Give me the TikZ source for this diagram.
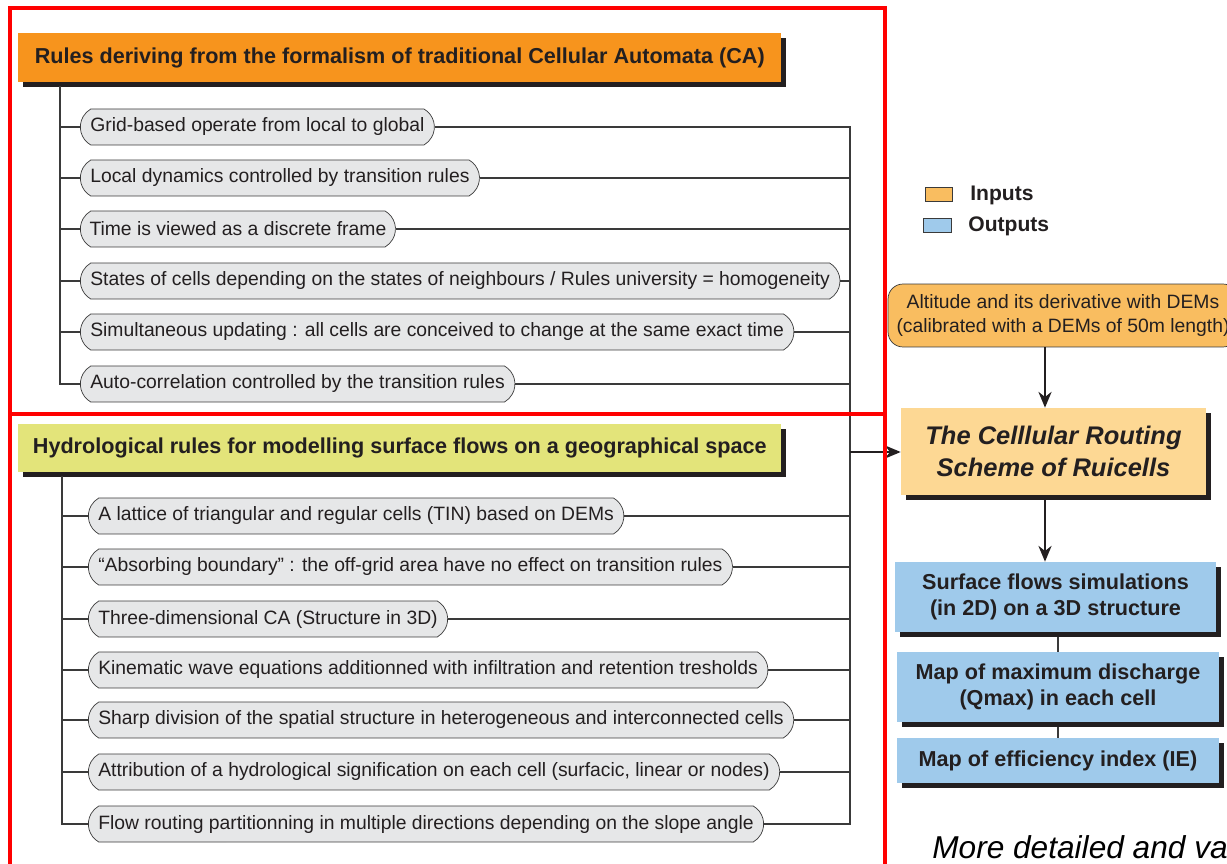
\documentclass[tikz,border=0pt]{standalone}
\usepackage{fontspec}
\setmainfont{Liberation Sans}
\usetikzlibrary{shapes.misc,shadows,arrows.meta}
\usepackage{xcolor}

\definecolor{hdrorange}{HTML}{F7941D}
\definecolor{hdryellow}{HTML}{E3E47A}
\definecolor{pillgray}{HTML}{E6E7E8}
\definecolor{inorange}{HTML}{F9BD60}
\definecolor{routeorange}{HTML}{FDD894}
\definecolor{outblue}{HTML}{9FCAEB}
\definecolor{txt}{HTML}{231F20}
\definecolor{wire}{HTML}{3A3A3A}

\tikzset{
	header/.style={fill=#1, anchor=west, minimum width=15.26cm, minimum height=0.98cm, text=txt, font=\fontsize{12.3}{14}\selectfont\bfseries, drop shadow={shadow xshift=0.1cm, shadow yshift=-0.1cm, opacity=1, fill=txt}},
	pill/.style={draw=wire, fill=pillgray, rounded rectangle, rounded rectangle arc length=120, anchor=west, minimum height=0.72cm, inner xsep=4.5pt, text=txt, font=\fontsize{11}{13}\selectfont},
	outbox/.style={fill=outblue, minimum width=6.43cm, align=center, text=txt, font=\fontsize{12.3}{14.5}\selectfont\bfseries, drop shadow={shadow xshift=0.1cm, shadow yshift=-0.1cm, opacity=1, fill=txt}},
	wires/.style={draw=wire, line width=0.8pt},
	flow/.style={-{Stealth[length=9pt,width=7.5pt]}, line width=1.1pt, txt},
	frame/.style={draw=red, line width=2.4pt}
}

\begin{document}
\begin{tikzpicture}[x=0.02cm, y=-0.02cm]

			\useasboundingbox (0,0) rectangle (1227,864);

			\node [header=hdrorange] (1) at (18,57.5) {Rules deriving from the formalism of traditional Cellular Automata (CA)};
			\node [pill] (11) at (80,127) {Grid-based operate from local to global};
			\node [pill] (12) at (80,178) {Local dynamics controlled by transition rules};
			\node [pill] (13) at (80,229) {Time is viewed as a discrete frame};
			\node [pill] (14) at (80,281) {States of cells depending on the states of neighbours / Rules university = homogeneity};
			\node [pill] (15) at (80,332) {Simultaneous updating : all cells are conceived to change at the same exact time};
			\node [pill] (16) at (80,384) {Auto-correlation controlled by the transition rules};

			\node [header=hdryellow] (2) at (18,448) {Hydrological rules for modelling surface flows on a geographical space};
			\node [pill] (21) at (88,516) {A lattice of triangular and regular cells (TIN) based on DEMs};
			\node [pill] (22) at (88,567) {“Absorbing boundary” : the off-grid area have no effect on transition rules};
			\node [pill] (23) at (88,619) {Three-dimensional CA (Structure in 3D)};
			\node [pill] (24) at (88,670) {Kinematic wave equations additionned with infiltration and retention tresholds};
			\node [pill] (25) at (88,720) {Sharp division of the spatial structure in heterogeneous and interconnected cells};
			\node [pill] (26) at (88,772) {Attribution of a hydrological signification on each cell (surfacic, linear or nodes)};
			\node [pill] (27) at (88,824) {Flow routing partitionning in multiple directions depending on the slope angle};

			\coordinate (t1) at (60,86);
			\coordinate (t2) at (62,476);
			\coordinate (r1) at (850,127);
			\coordinate (r2) at (850,452);

			\draw [wires] (t1) |- (16.west);
			\foreach \i in {11,...,15} \draw [wires] (t1 |- \i.west) -- (\i.west);
			\draw [wires] (t2) |- (27.west);
			\foreach \i in {21,...,26} \draw [wires] (t2 |- \i.west) -- (\i.west);

			\draw [wires] (11.east) -| (r1 |- 27.east) -- (27.east);
			\foreach \i in {12,...,16,21,22,...,26} \draw [wires] (\i.east) -- (r1 |- \i.east);

			\node [fill=inorange, draw=wire, minimum width=0.54cm, minimum height=0.28cm, inner sep=0pt] (3) at (938.5,194.5) {};
			\node [fill=outblue, draw=wire, minimum width=0.56cm, minimum height=0.28cm, inner sep=0pt] (4) at (937,225) {};
			\node [anchor=west, text=txt, font=\fontsize{12}{14}\selectfont\bfseries, inner sep=0pt] (5) at (970,195) {Inputs};
			\node [anchor=west, text=txt, font=\fontsize{12}{14}\selectfont\bfseries, inner sep=0pt] (6) at (968,226) {Outputs};

			\node [draw=wire, fill=inorange, rounded corners=0.3cm, minimum width=7cm, minimum height=1.26cm, align=center, text=txt, font=\fontsize{11}{13.6}\selectfont] (7) at (1063,315.5) {Altitude and its derivative with DEMs\\(calibrated with a DEMs of 50m length)};

			\node [fill=routeorange, minimum width=6.1cm, minimum height=1.74cm, align=center, text=txt, font=\fontsize{14.5}{18}\selectfont\bfseries\itshape, drop shadow={shadow xshift=0.1cm, shadow yshift=-0.1cm, opacity=1, fill=txt}] (8) at (1053.5,451.5) {The Celllular Routing\\Scheme of Ruicells};

			\node [outbox, minimum height=1.4cm] (9) at (1055.5,597) {Surface flows simulations\\(in 2D) on a 3D structure};
			\node [outbox, minimum height=1.4cm] (10) at (1058,687) {Map of maximum discharge\\(Qmax) in each cell};
			\node [outbox, minimum height=0.9cm] (17) at (1058,760.5) {Map of efficiency index (IE)};

			\coordinate (a1) at (1045,0);
			\draw [flow] (7.south -| a1) -- (8.north -| a1);
			\draw [flow] ([yshift=-0.1cm]8.south -| a1) -- (9.north -| a1);
			\draw [flow] (r2) -- (r2 -| 8.west);
			\draw [wires, line width=1.3pt] ([yshift=-0.1cm]9.south -| 10.north) -- (10.north);
			\draw [wires, line width=1.3pt] ([yshift=-0.1cm]10.south) -- (17.north);

			\node [anchor=base west, text=black, font=\fontsize{18}{20}\selectfont\itshape, inner sep=0pt] (18) at (932,858) {More detailed and va};

			\draw [frame] (10,8) rectangle (885,414);
			\draw [frame] (10,414) rectangle (885,880);

\end{tikzpicture}
\end{document}
